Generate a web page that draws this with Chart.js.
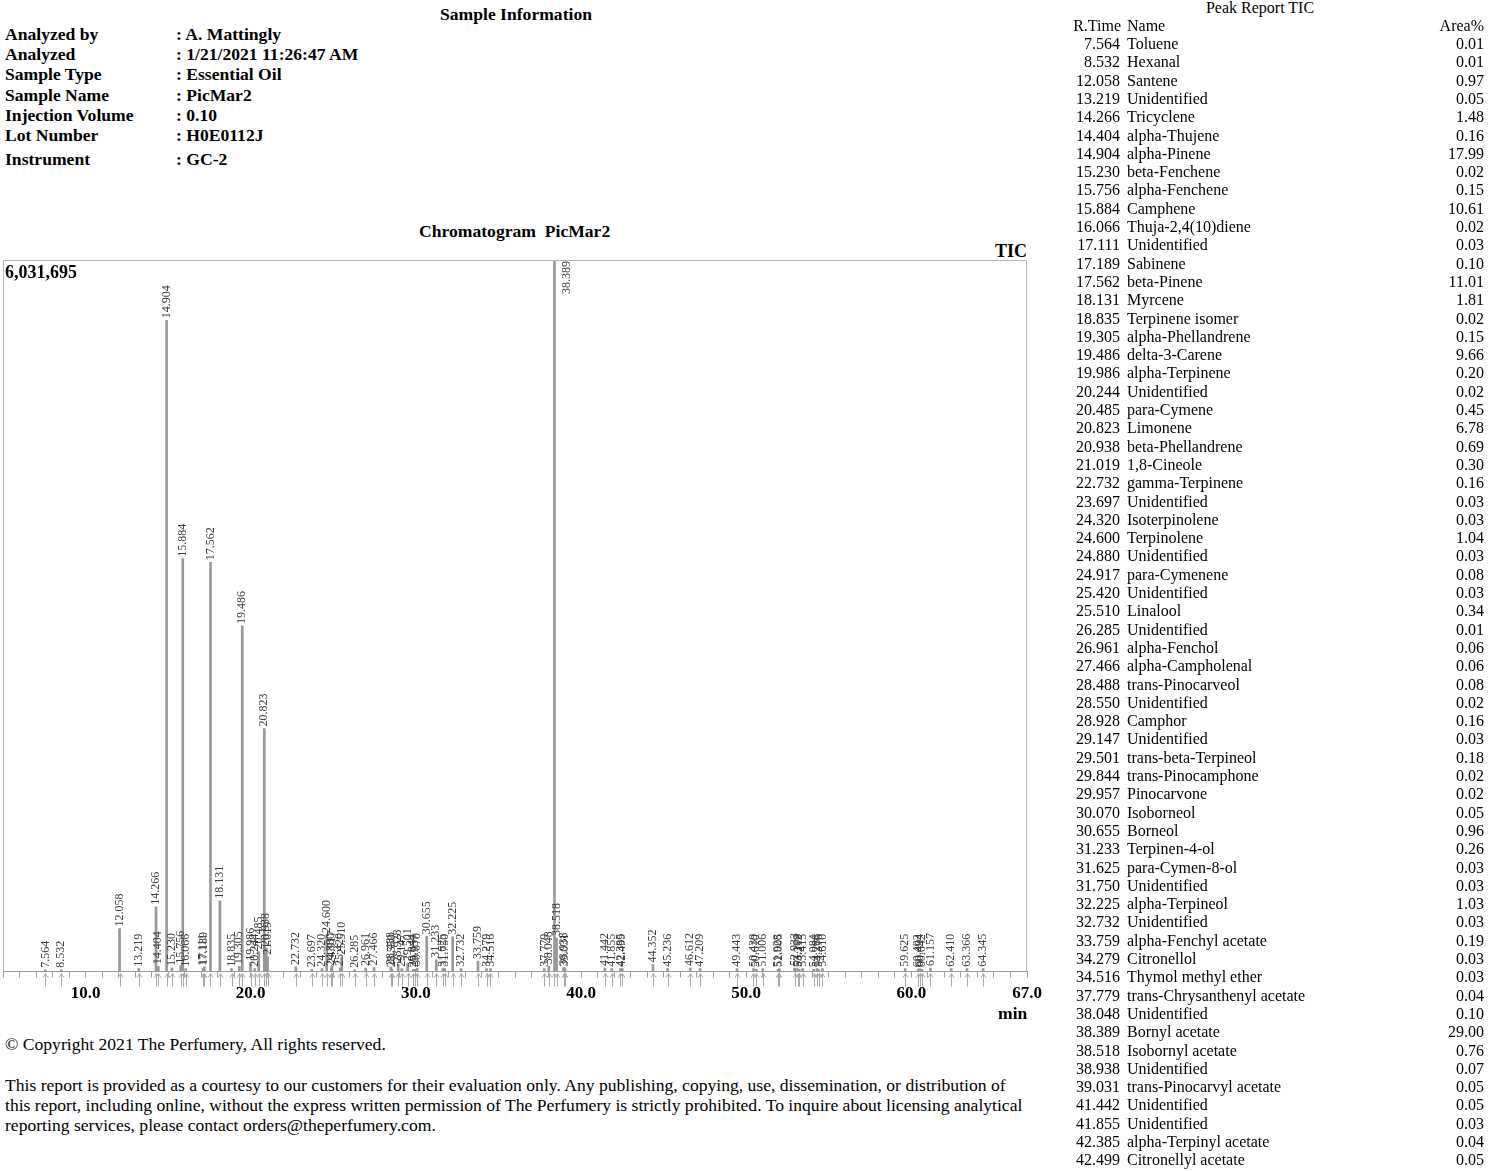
<!DOCTYPE html>
<html>
<head>
<meta charset="utf-8">
<script src="https://cdn.jsdelivr.net/npm/chart.js@4.4.1/dist/chart.umd.min.js"></script>
<style>
  body { margin: 0; background: #fff; }
  #page { position: relative; width: 1500px; height: 1171px; overflow: hidden; background: #fff;
          font-family: "Liberation Serif", "Times New Roman", serif; color: #000; }
  .t { position: absolute; white-space: nowrap; line-height: 20px; }
  .b { font-weight: bold; font-size: 17.6px; }
  .r { font-size: 17.6px; }
  .cell { position: absolute; white-space: nowrap; font-size: 16px; line-height: 18px; }
  #chartBox { position: absolute; left: -3px; top: 240px; width: 1052px; height: 770px; }
</style>
</head>
<body>
<div id="page">
  <div class="t b" style="left:440px;top:4px;">Sample Information</div>
  <div id="info"></div>

  <div class="t b" style="left:419px;top:221px;">Chromatogram&nbsp;&nbsp;PicMar2</div>
  <div class="t b" style="left:995px;top:241px;font-size:18px;">TIC</div>
  <div id="chartBox"><canvas id="tic" width="1052" height="770"></canvas></div>
  <div class="t b" style="left:5px;top:262px;font-size:18px;">6,031,695</div>
  <div class="t b" style="left:998px;top:1003px;">min</div>

  <div class="t r" style="left:5px;top:1034px;">© Copyright 2021 The Perfumery, All rights reserved.</div>
  <div class="t r" style="left:5px;top:1075px;">This report is provided as a courtesy to our customers for their evaluation only. Any publishing, copying, use, dissemination, or distribution of</div>
  <div class="t r" style="left:5px;top:1095px;">this report, including online, without the express written permission of The Perfumery is strictly prohibited. To inquire about licensing analytical</div>
  <div class="t r" style="left:5px;top:1115px;">reporting services, please contact orders@theperfumery.com.</div>

  <div class="cell" style="left:1060px;width:400px;text-align:center;top:-1px;">Peak Report TIC</div>
  <div id="table"></div>
</div>

<script>
// sample information block
const infoLabels = ['Analyzed by', 'Analyzed', 'Sample Type', 'Sample Name', 'Injection Volume', 'Lot Number', 'Instrument'];
const infoValues = [': A. Mattingly', ': 1/21/2021 11:26:47 AM', ': Essential Oil', ': PicMar2', ': 0.10', ': H0E0112J', ': GC-2'];
const infoRowY = [24, 44, 64, 85, 105, 125, 149];

// chromatogram peaks (retention time in min, height in counts)
const peakTimes = [
  7.564, 8.532, 12.058, 13.219, 14.266, 14.404, 14.904, 15.230, 15.756, 15.884,
  16.066, 17.111, 17.189, 17.562, 18.131, 18.835, 19.305, 19.486, 19.986, 20.244,
  20.485, 20.823, 20.938, 21.019, 22.732, 23.697, 24.320, 24.600, 24.880, 24.917,
  25.420, 25.510, 26.285, 26.961, 27.466, 28.488, 28.550, 28.928, 29.147, 29.501,
  29.844, 29.957, 30.070, 30.655, 31.233, 31.625, 31.750, 32.225, 32.732, 33.759,
  34.279, 34.516, 37.779, 38.048, 38.389, 38.518, 38.938, 39.031, 41.442, 41.855,
  42.385, 42.499, 44.352, 45.236, 46.612, 47.209, 49.443, 50.439, 50.610, 51.006,
  51.928, 52.005, 52.933, 53.108, 53.212, 53.415, 54.084, 54.286, 54.376, 54.610,
  59.625, 60.402, 60.494, 60.642, 61.157, 62.410, 63.366, 64.345
];
const peakHeights = [
  15000, 15000, 365000, 25000, 550000, 45000, 5520000, 30000, 50000, 3500000,
  25000, 30000, 40000, 3470000, 600000, 25000, 45000, 2930000, 75000, 25000,
  170000, 2060000, 200000, 125000, 40000, 20000, 25000, 310000, 30000, 50000,
  30000, 125000, 15000, 30000, 35000, 40000, 20000, 60000, 25000, 70000,
  20000, 20000, 30000, 300000, 100000, 25000, 25000, 295000, 25000, 90000,
  25000, 25000, 25000, 45000, 6600000, 285000, 35000, 25000, 30000, 25000,
  25000, 25000, 60000, 25000, 30000, 25000, 25000, 25000, 20000, 25000,
  20000, 25000, 30000, 25000, 20000, 25000, 20000, 25000, 20000, 25000,
  25000, 20000, 25000, 20000, 30000, 25000, 25000, 25000
];
const majorTicks = [10, 20, 30, 40, 50, 60, 67];
const xMin = 5;
const xMax = 67;
const yFullScale = 6031695;

// peak report table
const tableTimes = [
  '7.564', '8.532', '12.058', '13.219', '14.266', '14.404', '14.904', '15.230', '15.756', '15.884',
  '16.066', '17.111', '17.189', '17.562', '18.131', '18.835', '19.305', '19.486', '19.986', '20.244',
  '20.485', '20.823', '20.938', '21.019', '22.732', '23.697', '24.320', '24.600', '24.880', '24.917',
  '25.420', '25.510', '26.285', '26.961', '27.466', '28.488', '28.550', '28.928', '29.147', '29.501',
  '29.844', '29.957', '30.070', '30.655', '31.233', '31.625', '31.750', '32.225', '32.732', '33.759',
  '34.279', '34.516', '37.779', '38.048', '38.389', '38.518', '38.938', '39.031', '41.442', '41.855',
  '42.385', '42.499'
];
const tableNames = [
  'Toluene', 'Hexanal', 'Santene', 'Unidentified', 'Tricyclene', 'alpha-Thujene', 'alpha-Pinene', 'beta-Fenchene', 'alpha-Fenchene', 'Camphene',
  'Thuja-2,4(10)diene', 'Unidentified', 'Sabinene', 'beta-Pinene', 'Myrcene', 'Terpinene isomer', 'alpha-Phellandrene', 'delta-3-Carene', 'alpha-Terpinene', 'Unidentified',
  'para-Cymene', 'Limonene', 'beta-Phellandrene', '1,8-Cineole', 'gamma-Terpinene', 'Unidentified', 'Isoterpinolene', 'Terpinolene', 'Unidentified', 'para-Cymenene',
  'Unidentified', 'Linalool', 'Unidentified', 'alpha-Fenchol', 'alpha-Campholenal', 'trans-Pinocarveol', 'Unidentified', 'Camphor', 'Unidentified', 'trans-beta-Terpineol',
  'trans-Pinocamphone', 'Pinocarvone', 'Isoborneol', 'Borneol', 'Terpinen-4-ol', 'para-Cymen-8-ol', 'Unidentified', 'alpha-Terpineol', 'Unidentified', 'alpha-Fenchyl acetate',
  'Citronellol', 'Thymol methyl ether', 'trans-Chrysanthenyl acetate', 'Unidentified', 'Bornyl acetate', 'Isobornyl acetate', 'Unidentified', 'trans-Pinocarvyl acetate', 'Unidentified', 'Unidentified',
  'alpha-Terpinyl acetate', 'Citronellyl acetate'
];
const tableAreas = [
  '0.01', '0.01', '0.97', '0.05', '1.48', '0.16', '17.99', '0.02', '0.15', '10.61',
  '0.02', '0.03', '0.10', '11.01', '1.81', '0.02', '0.15', '9.66', '0.20', '0.02',
  '0.45', '6.78', '0.69', '0.30', '0.16', '0.03', '0.03', '1.04', '0.03', '0.08',
  '0.03', '0.34', '0.01', '0.06', '0.06', '0.08', '0.02', '0.16', '0.03', '0.18',
  '0.02', '0.02', '0.05', '0.96', '0.26', '0.03', '0.03', '1.03', '0.03', '0.19',
  '0.03', '0.03', '0.04', '0.10', '29.00', '0.76', '0.07', '0.05', '0.05', '0.03',
  '0.04', '0.05'
];

// header block
const info = document.getElementById('info');
info.innerHTML = infoLabels.map((label, i) => `
  <div class="t b" style="left:5px;top:${infoRowY[i]}px;">${label}</div>
  <div class="t b" style="left:176px;top:${infoRowY[i]}px;">${infoValues[i]}</div>`).join('');

// table
const rowTop = (i) => 35 + i * 18.3;
const table = document.getElementById('table');
let html = `
  <div class="cell" style="left:1000px;width:121px;text-align:right;top:17px;">R.Time</div>
  <div class="cell" style="left:1127px;top:17px;">Name</div>
  <div class="cell" style="left:1384px;width:100px;text-align:right;top:17px;">Area%</div>`;
tableTimes.forEach((t, i) => {
  const y = rowTop(i).toFixed(1);
  html += `
  <div class="cell" style="left:1000px;width:120px;text-align:right;top:${y}px;">${t}</div>
  <div class="cell" style="left:1127px;top:${y}px;">${tableNames[i]}</div>
  <div class="cell" style="left:1384px;width:100px;text-align:right;top:${y}px;">${tableAreas[i]}</div>`;
});
table.innerHTML = html;

// minute tick positions along the time axis
const minuteTicks = [];
for (let m = xMin; m <= xMax; m++) minuteTicks.push(m);

const plotFrame = {
  id: 'plotFrame',
  afterDraw(chart) {
    const { ctx, chartArea: a } = chart;
    ctx.save();
    ctx.strokeStyle = '#b5b5b5';
    ctx.lineWidth = 1;
    ctx.beginPath();
    ctx.moveTo(a.left + 0.5, a.bottom);
    ctx.lineTo(a.left + 0.5, a.top + 0.5);
    ctx.lineTo(a.right - 0.5, a.top + 0.5);
    ctx.lineTo(a.right - 0.5, a.bottom);
    ctx.stroke();
    ctx.restore();
  },
};

const peakLabels = {
  id: 'peakLabels',
  afterDatasetsDraw(chart) {
    const { ctx, chartArea: a } = chart;
    const meta = chart.getDatasetMeta(0);
    ctx.save();
    ctx.font = '12px "Liberation Serif"';
    ctx.fillStyle = '#3a3a3a';
    ctx.textBaseline = 'middle';
    meta.data.forEach((bar, i) => {
      const label = peakTimes[i].toFixed(3);
      ctx.save();
      if (bar.y < a.top + 2) {
        ctx.translate(bar.x + 12, a.top + 1);
        ctx.rotate(-Math.PI / 2);
        ctx.textAlign = 'right';
      } else {
        ctx.translate(bar.x, bar.y - 2);
        ctx.rotate(-Math.PI / 2);
        ctx.textAlign = 'left';
      }
      ctx.fillText(label, 0, 0);
      ctx.restore();

      // integration marker under the baseline
      const x = Math.round(bar.x) + 0.5;
      const b = a.bottom;
      ctx.strokeStyle = '#a8a8a8';
      ctx.lineWidth = 1;
      ctx.beginPath();
      ctx.moveTo(x, b + 2);
      ctx.lineTo(x, b + 15);
      ctx.moveTo(x - 2.5, b + 6);
      ctx.lineTo(x, b + 2);
      ctx.lineTo(x + 2.5, b + 6);
      ctx.stroke();
    });
    ctx.restore();
  },
};

new Chart(document.getElementById('tic'), {
  type: 'bar',
  data: {
    datasets: [{
      label: 'TIC',
      data: peakTimes.map((t, i) => ({ x: t, y: peakHeights[i] })),
      backgroundColor: '#989898',
      barThickness: 2,
    }],
  },
  options: {
    responsive: false,
    animation: false,
    layout: { padding: { left: 6, right: 22, top: 20, bottom: 0 } },
    plugins: { legend: { display: false }, tooltip: { enabled: false } },
    scales: {
      x: {
        type: 'linear',
        min: xMin,
        max: xMax,
        offset: false,
        afterBuildTicks: (scale) => { scale.ticks = minuteTicks.map((v) => ({ value: v })); },
        ticks: {
          autoSkip: false,
          maxRotation: 0,
          padding: 6,
          color: '#000',
          font: { family: '"Liberation Serif"', size: 17, weight: 'bold' },
          callback: (v) => (majorTicks.includes(v) ? v.toFixed(1) : ''),
        },
        grid: { display: true, drawOnChartArea: false, drawTicks: true, tickLength: 6, color: '#a0a0a0', offset: false },
        border: { display: true, color: '#9a9a9a' },
      },
      y: {
        display: false,
        min: 0,
        max: yFullScale,
      },
    },
  },
  plugins: [plotFrame, peakLabels],
});
</script>
</body>
</html>
